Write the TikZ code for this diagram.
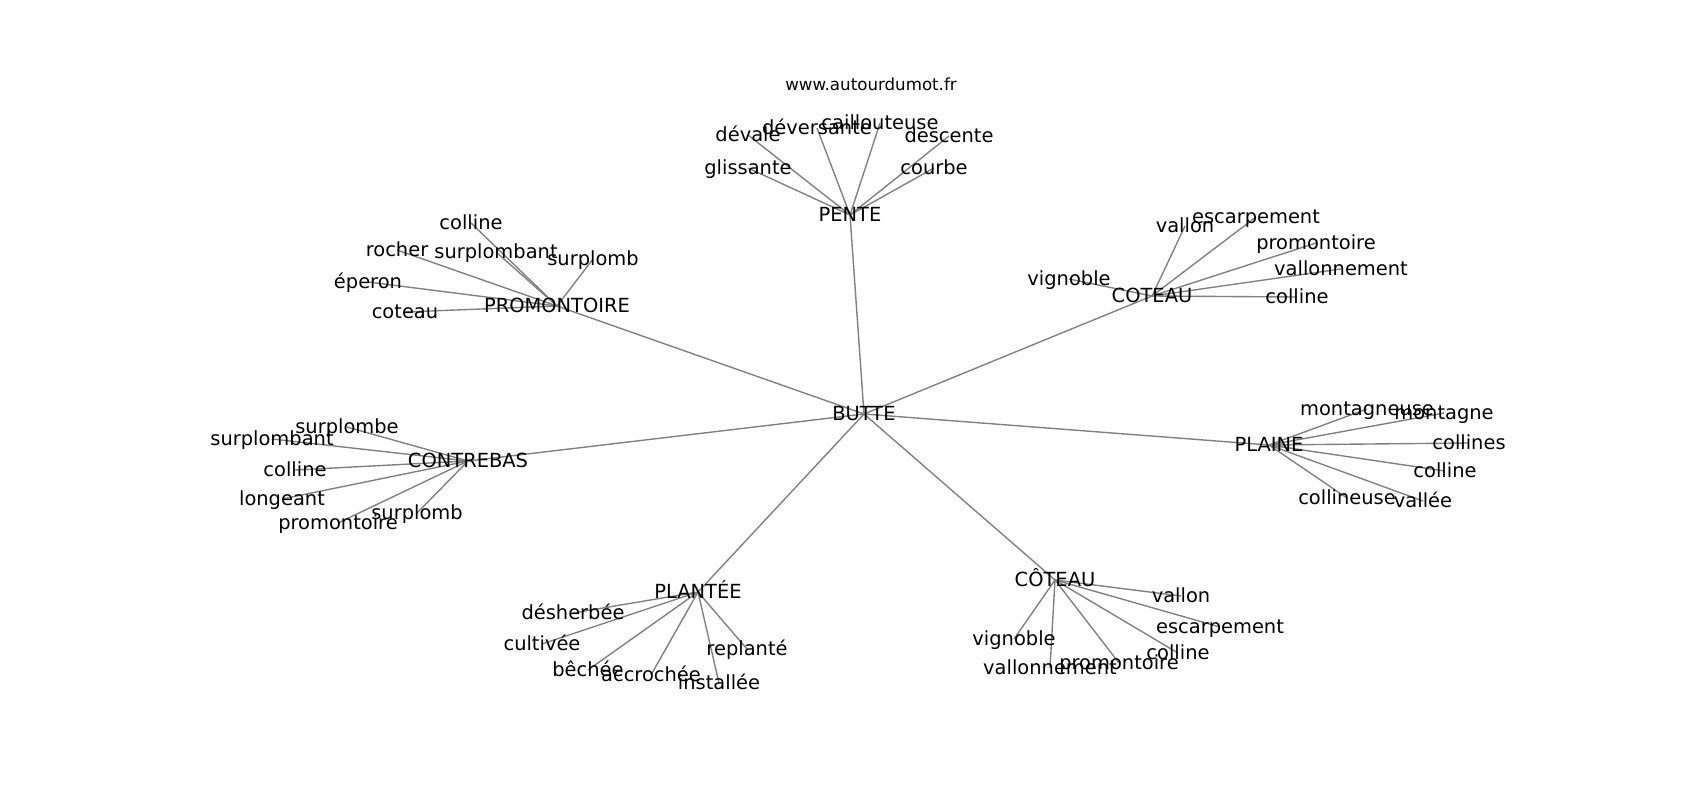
\documentclass[tikz,border=0pt]{standalone}
\usepackage{fontspec}
\setmainfont{DejaVu Sans}
\usetikzlibrary{backgrounds}

\begin{document}
\begin{tikzpicture}[x=0.72pt, y=-0.72pt,
    word/.style={font=\fontsize{14}{16}\selectfont, inner sep=0pt,
        text height=12pt, text depth=2pt},
    link/.style={draw=gray, line width=1pt}]
    \useasboundingbox (0,0) rectangle (1700,800);
    \node[font=\fontsize{12}{14}\selectfont, inner sep=0pt] (site) at (871,84) {www.autourdumot.fr};
    % hubs
    \foreach \nm/\x/\y/\txt in {butte/864/414/BUTTE, pente/850/215/PENTE,
        promo/557/306/PROMONTOIRE, coteau/1152/296/COTEAU,
        contre/468/461/CONTREBAS, plaine/1269/445/PLAINE,
        plantee/698/592/PLANTÉE, cotB/1055/580/CÔTEAU}{
            \node[word] (\nm) at (\x,\y) {\txt};
        }
    % words round each hub
    \foreach \nm/\x/\y/\txt in {peDev/748/135/dévale, peDvs/817/128/déversante,
        peCai/880/123/caillouteuse, peDes/949/136/descente,
        peGli/748/168/glissante, peCou/934/168/courbe,
        prCol/471/223/colline, prRoc/397/250/rocher, prSut/496/252/surplombant,
        prSup/593/259/surplomb, prEpe/368/282/éperon, prCot/405/312/coteau,
        coVal/1185/226/vallon, coEsc/1256/217/escarpement, coPro/1316/243/promontoire,
        coVnt/1341/269/vallonnement, coVig/1069/279/vignoble, coCol/1297/297/colline,
        ctSpe/347/427/surplombe, ctSpt/272/439/surplombant, ctCol/295/470/colline,
        ctLon/282/499/longeant, ctPro/338/523/promontoire, ctSup/417/513/surplomb,
        plMoe/1367/409/montagneuse, plMon/1444/413/montagne, plCos/1469/443/collines,
        plCol/1445/471/colline, plCoe/1347/498/collineuse, plVal/1423/501/vallée,
        ptDes/573/613/désherbée, ptCul/542/644/cultivée, ptBec/588/670/bêchée,
        ptAcc/651/675/accrochée, ptIns/719/683/installée, ptRep/747/649/replanté,
        cbVal/1181/596/vallon, cbEsc/1220/627/escarpement, cbCol/1178/653/colline,
        cbPro/1119/663/promontoire, cbVnt/1050/668/vallonnement, cbVig/1014/639/vignoble}{
            \node[word] (\nm) at (\x,\y) {\txt};
        }
    \begin{scope}[on background layer]
        \foreach \h in {pente,promo,coteau,contre,plaine,plantee,cotB}
            \draw[link] (butte.center) -- (\h.center);
        \foreach \c in {peDev,peDvs,peCai,peDes,peGli,peCou}
            \draw[link] (pente.center) -- (\c.center);
        \foreach \c in {prCol,prRoc,prSut,prSup,prEpe,prCot}
            \draw[link] (promo.center) -- (\c.center);
        \foreach \c in {coVal,coEsc,coPro,coVnt,coVig,coCol}
            \draw[link] (coteau.center) -- (\c.center);
        \foreach \c in {ctSpe,ctSpt,ctCol,ctLon,ctPro,ctSup}
            \draw[link] (contre.center) -- (\c.center);
        \foreach \c in {plMoe,plMon,plCos,plCol,plCoe,plVal}
            \draw[link] (plaine.center) -- (\c.center);
        \foreach \c in {ptDes,ptCul,ptBec,ptAcc,ptIns,ptRep}
            \draw[link] (plantee.center) -- (\c.center);
        \foreach \c in {cbVal,cbEsc,cbCol,cbPro,cbVnt,cbVig}
            \draw[link] (cotB.center) -- (\c.center);
    \end{scope}
\end{tikzpicture}
\end{document}
